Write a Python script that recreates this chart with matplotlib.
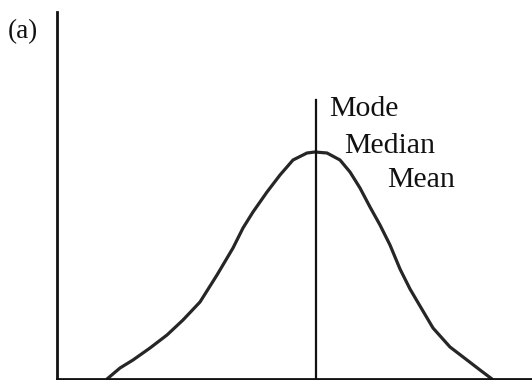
import matplotlib.pyplot as plt

# curve (horizontal position, height)
curve_x = [50, 63, 76, 93, 110, 126, 143, 160, 176, 186, 196, 210, 223, 236,
           250, 258, 270, 283, 293, 303, 313, 323, 333, 343, 353, 363, 376,
           393, 410, 423, 435]
curve_y = [0, 11, 19, 31, 44, 59, 77, 104, 131, 151, 167, 187, 204, 219,
           226, 227, 226, 219, 207, 191, 172, 154, 134, 110, 90, 73, 51,
           32, 19, 9, 0]

centre_x = 259
centre_top = 279
labels = ["Mode", "Median", "Mean"]
label_pos = [(272, 263), (287, 226), (330, 192)]

W, H = 532, 380
fig = plt.figure(figsize=(W / 100, H / 100), dpi=100)
ax = fig.add_axes([57 / W, 1 / H, 475 / W, 367 / H])

ax.plot(curve_x, curve_y, color="#262626", lw=2.3, solid_joinstyle="round",
        solid_capstyle="round")
ax.plot([centre_x, centre_x], [0, centre_top], color="#111111", lw=1.6)

for text, (tx, ty) in zip(labels, label_pos):
    ax.text(tx, ty, text, family="Liberation Serif", fontsize=21.5,
            color="#111111", va="baseline", ha="left")

fig.text(8 / W, 1 - 38 / H, "(a)", family="Liberation Serif", fontsize=19.5,
         color="#111111", va="baseline", ha="left")

ax.set_xlim(0, 475)
ax.set_ylim(0, 367)
ax.set_xticks([])
ax.set_yticks([])
for side in ["top", "right"]:
    ax.spines[side].set_visible(False)
for side in ["left", "bottom"]:
    ax.spines[side].set_linewidth(2)
    ax.spines[side].set_color("#111111")

fig.savefig("out.png", dpi=100)
